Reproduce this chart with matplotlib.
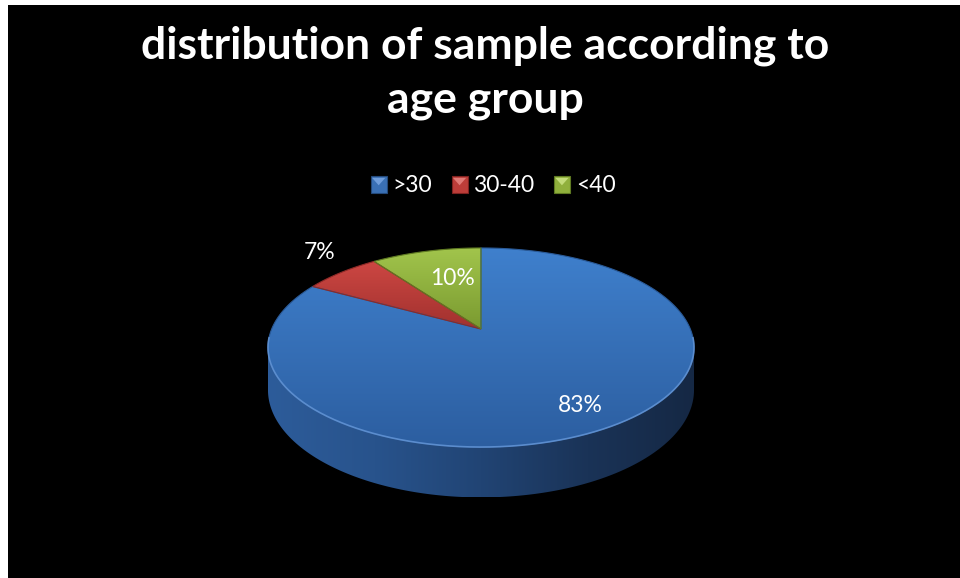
import numpy as np
import matplotlib.pyplot as plt
from matplotlib.patches import Polygon, Rectangle
from matplotlib.legend_handler import HandlerBase
from matplotlib.colors import LinearSegmentedColormap

# ---- data ----
categories = ['>30', '30-40', '<40']
values = [83, 7, 10]
title_lines = ['distribution of sample according to', 'age group']

# ---- styling ----
top_grad = [('#3f80cd', '#2c5ea0'), ('#cd4743', '#a1312e'), ('#a2c54c', '#7a9a30')]
edge_cols = ['#2a5a98', '#8e2a27', '#5f7a22']
legend_cols = [('#3a70b5', '#6f9ddb', '#24497a'),
               ('#bd3d39', '#e07a76', '#7f2220'),
               ('#90b03c', '#c3dc7a', '#5f7a22')]
label_radius = [0.81, 1.30, 0.60]
label_shift = [0.0, -0.08, -0.06]   # angular nudge (rad)
FONT = 'Lato'

W, H = 960, 578
fig = plt.figure(figsize=(W / 100, H / 100), dpi=100, facecolor='white')
ax = fig.add_axes([0, 0, 1, 1])
ax.axis('off')
ax.add_patch(Rectangle((8, 5), W - 8, H - 5, facecolor='black', edgecolor='none', zorder=0))

# perspective view of the disc
CX, CY = 481, 329
SX, SY = 209.3, 96.1
K = 0.186
DEPTH = 41


def project(phi, r=1.0, drop=False):
    x = r * np.cos(phi)
    y = r * np.sin(phi)
    w = 1 + K * y
    X = CX + SX * x / w
    Y = CY - SY * y / w
    if drop:
        Y = Y + DEPTH / w
    return X, Y


def gradient_fill(verts, colors, direction='v', zorder=1):
    poly = Polygon(verts, closed=True, facecolor='none', edgecolor='none', zorder=zorder)
    ax.add_patch(poly)
    xmin, ymin = verts.min(axis=0)
    xmax, ymax = verts.max(axis=0)
    cmap = LinearSegmentedColormap.from_list('g', colors)
    g = np.linspace(0, 1, 256)
    grad = g.reshape(-1, 1) if direction == 'v' else g.reshape(1, -1)
    im = ax.imshow(grad, cmap=cmap, extent=(xmin, xmax, ymax, ymin), origin='upper',
                   aspect='auto', zorder=zorder, interpolation='bilinear')
    im.set_clip_path(poly)
    return poly


# slice angles: start at 12 o'clock, run clockwise
fracs = np.array(values, dtype=float) / np.sum(values)
starts = np.pi / 2 - 2 * np.pi * np.concatenate([[0], np.cumsum(fracs)[:-1]])
ends = starts - 2 * np.pi * fracs

# visible side wall (front half between the silhouette points)
phi_l = np.pi + np.arcsin(K)
phi_r = -np.arcsin(K)
side_phi = np.linspace(phi_r, phi_l - 2 * np.pi, 300)
tx, ty = project(side_phi)
bx, by = project(side_phi[::-1], drop=True)
side = np.column_stack([np.concatenate([tx, bx]), np.concatenate([ty, by])])
gradient_fill(side, ['#2d5c9a', '#28538c', '#214474', '#1a3357', '#152844'], 'h', zorder=1)

# top faces of the slices
for i, (a0, a1) in enumerate(zip(starts, ends)):
    phi = np.linspace(a0, a1, max(int(abs(a1 - a0) * 80), 10))
    px, py = project(phi)
    verts = np.column_stack([np.concatenate([[CX], px]), np.concatenate([[CY], py])])
    gradient_fill(verts, list(top_grad[i]), 'v', zorder=2)
    ax.add_patch(Polygon(verts, closed=True, facecolor='none', edgecolor=edge_cols[i],
                         lw=0.8, zorder=3))

# light rim along the front edge of the top face
rx, ry = project(np.linspace(phi_r + 0.1, phi_l - 2 * np.pi - 0.1, 300))
ax.plot(rx, ry, color='#6c9fe2', lw=1.2, alpha=0.75, zorder=4, solid_capstyle='round')

# percentage labels
for i, (a0, a1) in enumerate(zip(starts, ends)):
    mid = (a0 + a1) / 2 + label_shift[i]
    lx, ly = project(mid, label_radius[i])
    ax.text(lx, ly, f'{values[i]}%', color='white', fontsize=16.5, family=FONT,
            ha='center', va='center', zorder=5)

# title, one baseline per line
for line, base in zip(title_lines, [58, 113]):
    ax.text(485, base, line, color='white', fontsize=32, fontweight='bold', family=FONT,
            ha='center', va='baseline', zorder=5)


# legend with bevelled square keys
class BevelKey(HandlerBase):
    def create_artists(self, legend, orig_handle, xdescent, ydescent, width, height,
                       fontsize, trans):
        base, light, dark = orig_handle
        s = min(width, height)
        x0 = -xdescent + (width - s) / 2
        y0 = -ydescent + (height - s) / 2
        sq = Rectangle((x0, y0), s, s, facecolor=base, edgecolor=dark, lw=0.8, transform=trans)
        tri = Polygon([(x0 + 1, y0 + s - 1), (x0 + s - 1, y0 + s - 1), (x0 + s / 2, y0 + s * 0.45)],
                      closed=True, facecolor=light, edgecolor='none', transform=trans)
        return [sq, tri]


handles = [tuple(c) for c in legend_cols]
leg = ax.legend(handles, categories, handler_map={tuple: BevelKey()}, ncol=3, loc='center',
                bbox_to_anchor=(493 / W, 1 - 186 / H), bbox_transform=fig.transFigure,
                frameon=False, prop={'family': FONT, 'size': 16.5}, labelcolor='white',
                handlelength=0.7, handleheight=0.7, handletextpad=0.25, columnspacing=0.85)

ax.set_xlim(0, W)
ax.set_ylim(H, 0)
fig.savefig('out.png', dpi=100, facecolor='white')
